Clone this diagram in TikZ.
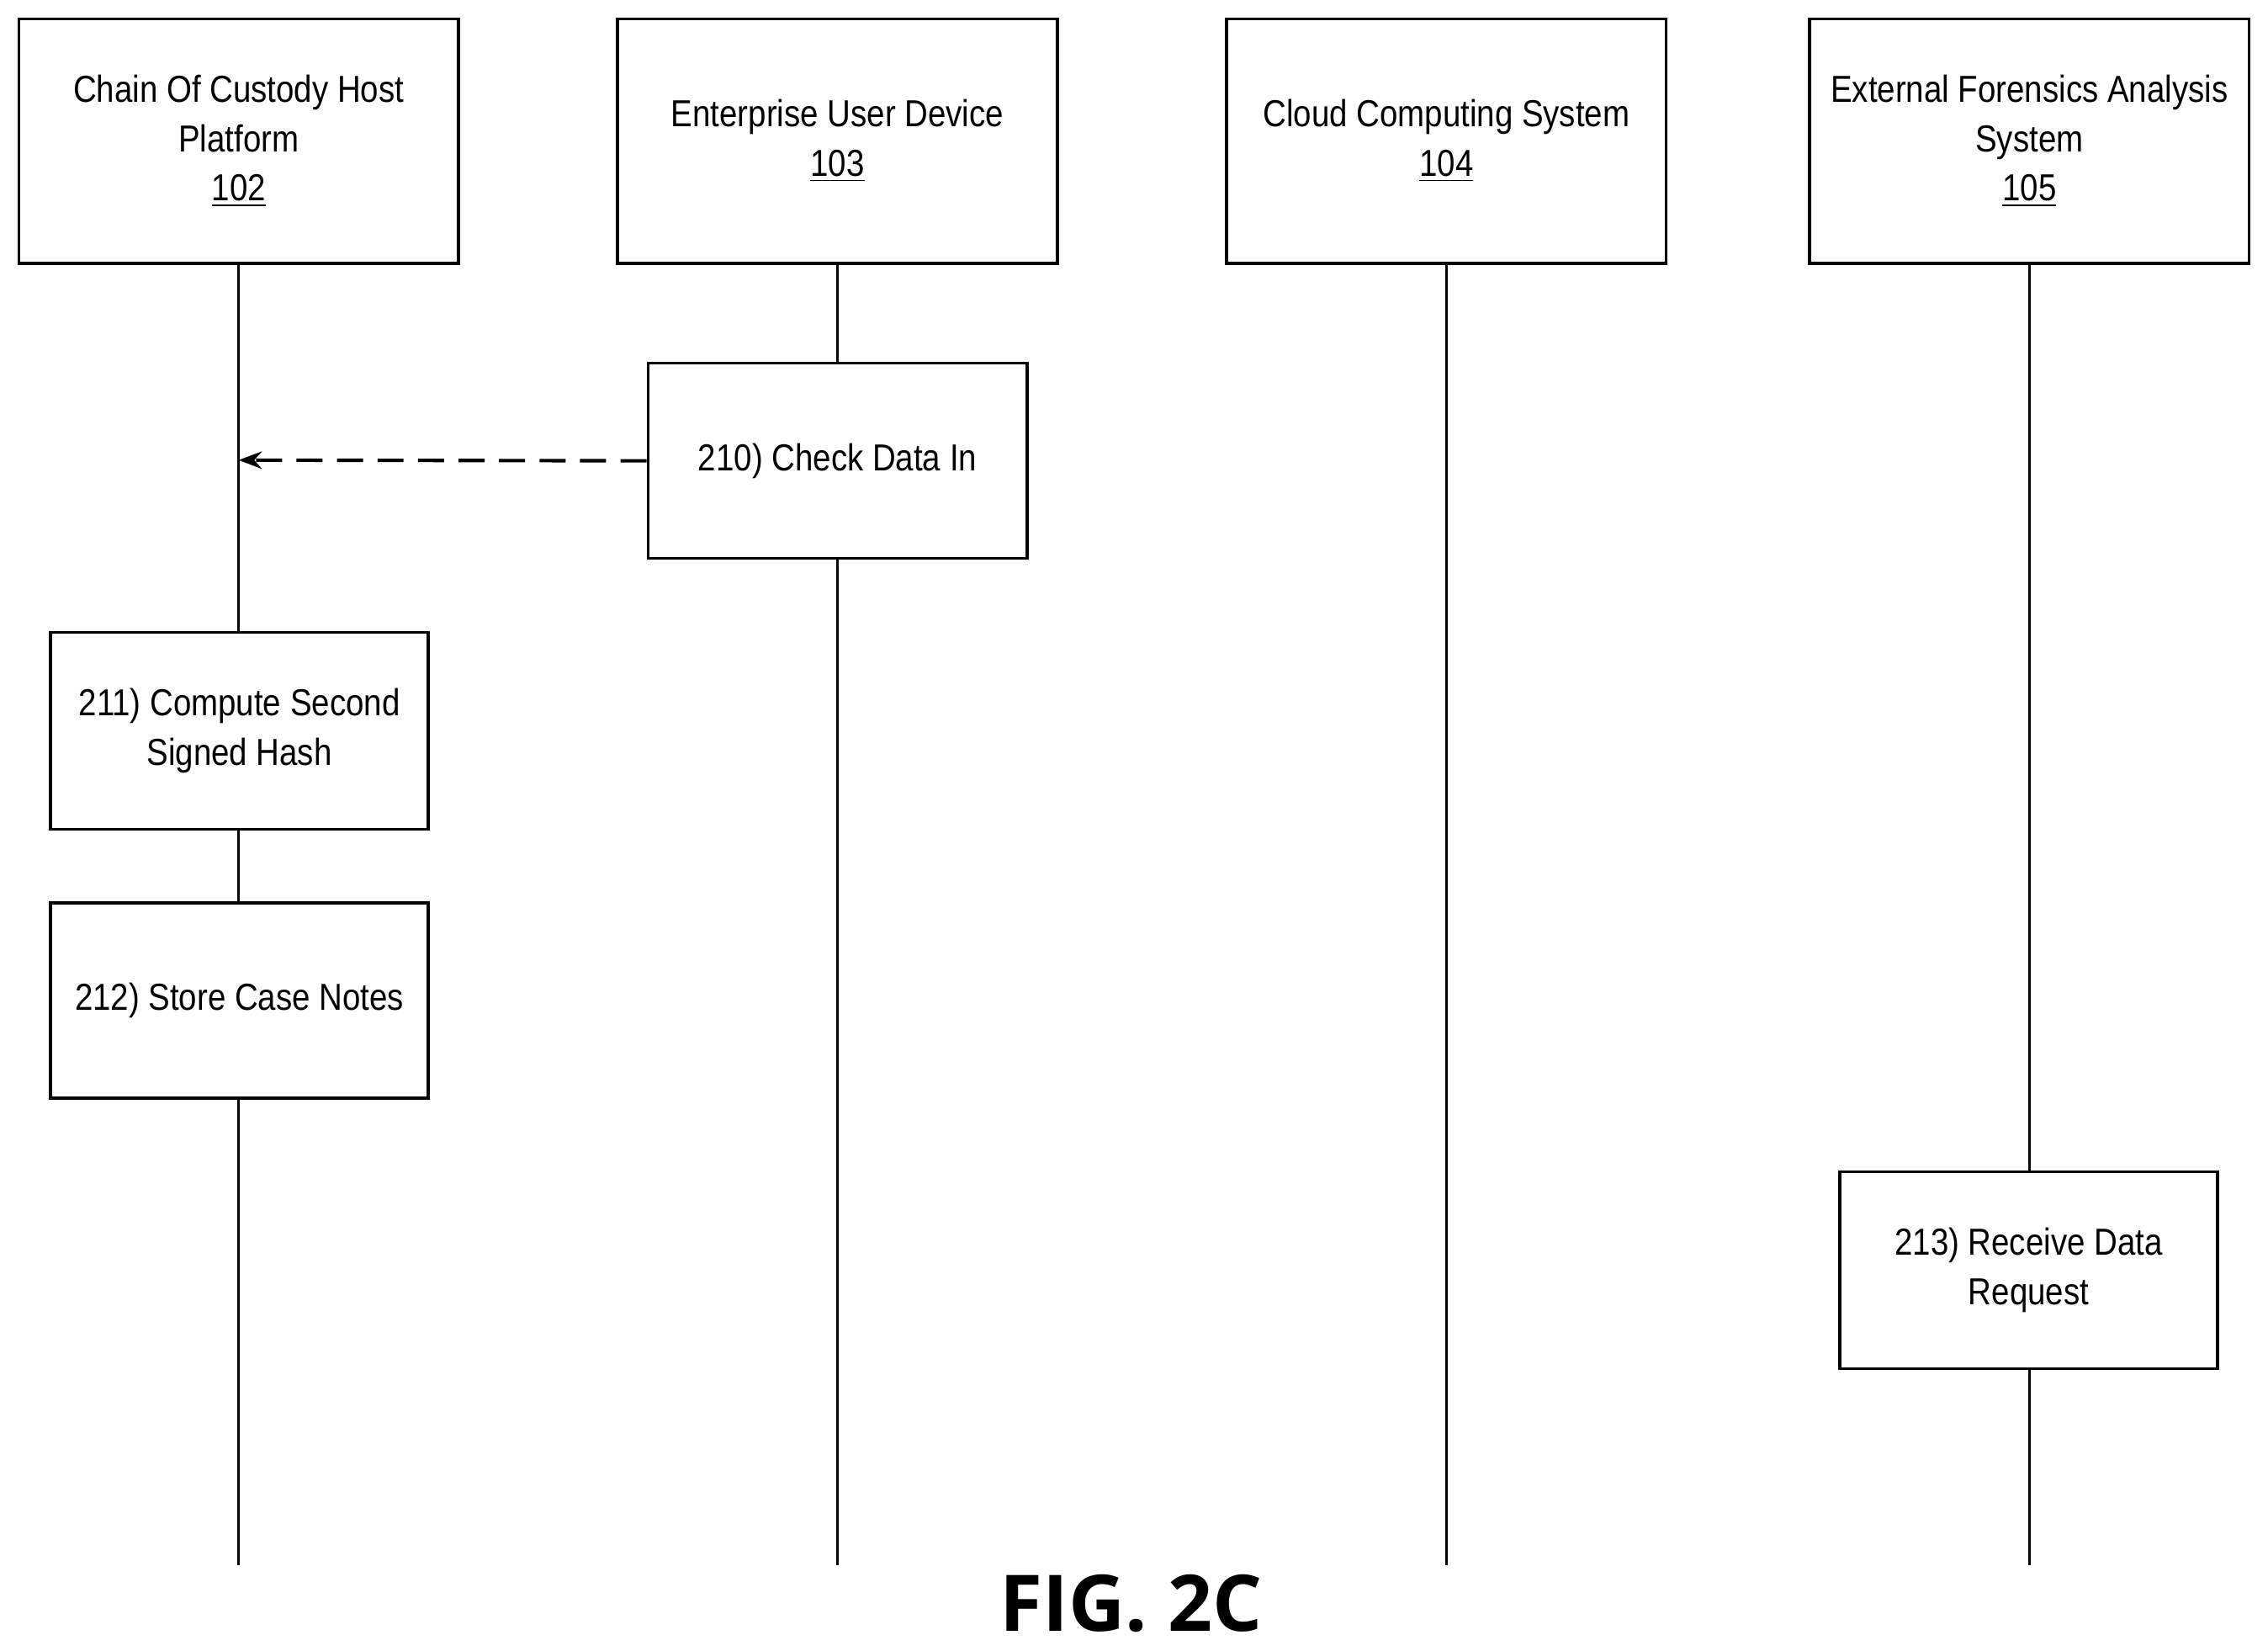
\documentclass[tikz,border=0pt]{standalone}
\usepackage{fontspec}
\setmainfont{Liberation Sans}[FakeStretch=0.86]
\newfontfamily\figfont{Open Sans}
\usetikzlibrary{arrows.meta}
\begin{document}
\begin{tikzpicture}[x=0.5pt,y=-0.5pt,
 box/.style={draw,line width=1pt,inner sep=0pt,align=center,font=\fontsize{13}{17}\selectfont},
 life/.style={line width=1pt}]
\useasboundingbox (0,0) rectangle (1568,1141);
\node[box,minimum width=152pt,minimum height=84.5pt] (h1) at (165,97.5) {Chain Of Custody Host\\Platform\\\underline{102}};
\node[box,minimum width=152pt,minimum height=84.5pt] (h2) at (579,97.5) {Enterprise User Device\\\underline{103}};
\node[box,minimum width=152pt,minimum height=84.5pt] (h3) at (1000,97.5) {Cloud Computing System\\\underline{104}};
\node[box,minimum width=152pt,minimum height=84.5pt] (h4) at (1403,97.5) {External Forensics Analysis\\System\\\underline{105}};
\coordinate (e1) at (165,1082);
\coordinate (e2) at (579,1082);
\coordinate (e3) at (1000,1082);
\coordinate (e4) at (1403,1082);
\draw[life] (h1.south) -- (e1);
\draw[life] (h2.south) -- (e2);
\draw[life] (h3.south) -- (e3);
\draw[life] (h4.south) -- (e4);
\node[box,fill=white,minimum width=131pt,minimum height=67.5pt] (s210) at (579,318.5) {210) Check Data In};
\node[box,fill=white,minimum width=130.5pt,minimum height=68pt] (s211) at (165.5,505) {211) Compute Second\\Signed Hash};
\node[box,fill=white,minimum width=130.5pt,minimum height=67.5pt] (s212) at (165.5,691.5) {212) Store Case Notes};
\node[box,fill=white,minimum width=130.5pt,minimum height=68pt] (s213) at (1402.5,878) {213) Receive Data\\Request};
\coordinate (a1) at (165,318);
\draw[line width=1.2pt,dash pattern=on 9pt off 5pt,-{Stealth[length=8pt,width=6pt]}] (s210.west) -- (a1);
\node[font=\figfont\bfseries\fontsize{27}{30}\selectfont] (fig) at (782,1108) {FIG. 2C};
\end{tikzpicture}
\end{document}
